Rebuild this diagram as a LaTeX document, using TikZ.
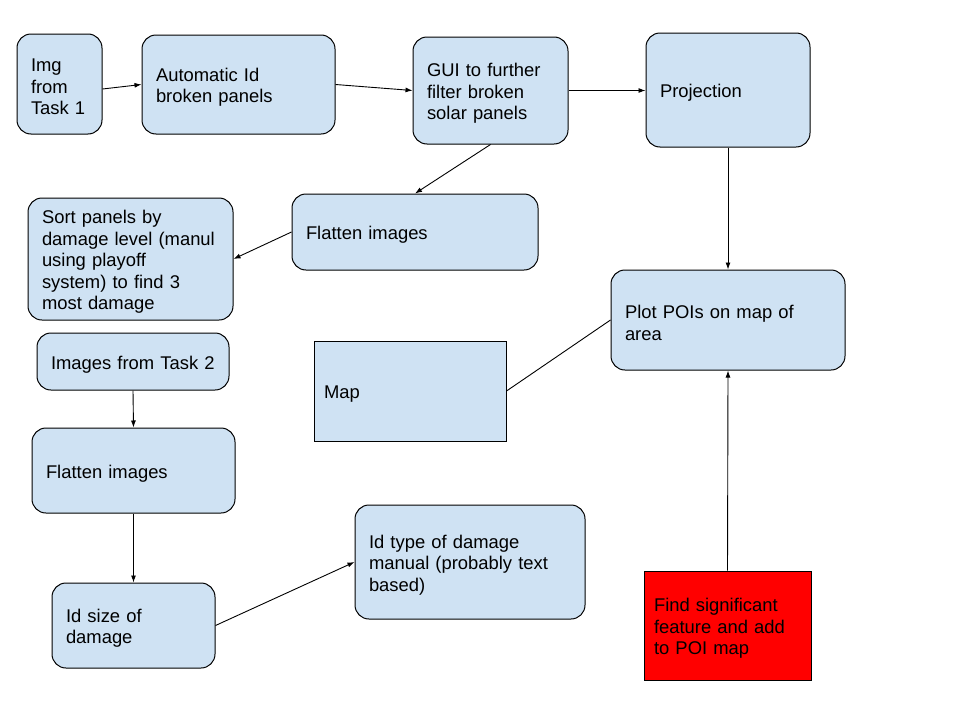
\documentclass[tikz,border=0pt]{standalone}
\usepackage{fontspec}
\setmainfont{Liberation Sans}
\usetikzlibrary{arrows.meta}
\definecolor{boxblue}{HTML}{CFE2F3}
\begin{document}
\begin{tikzpicture}
		[x=1pt,y=-1pt,
		mybox/.style 2 args = {shape=rectangle, draw, rounded corners=14pt, fill=boxblue, line width=1pt,
			align=left, inner xsep=14pt, inner ysep=0pt, text width=#1-28pt, minimum height=#2,
			font=\fontsize{18.4}{21.5}\selectfont, execute at begin node={\rule{0pt}{19pt}}},
		flatbox/.style 2 args = {mybox={#1}{#2}, sharp corners, inner xsep=10pt, text width=#1-20pt},
		myarrow/.style = {-{Latex[length=7pt,width=5pt]}, line width=0.9pt}]
		\useasboundingbox (0,0) rectangle (960,720);
		% top row
		\node[mybox={85pt}{100pt},name=img] at (59.5,84) {Img\\from\\Task 1};
		\node[mybox={193pt}{99pt},name=auto] at (238.5,84.5) {Automatic Id\\broken panels};
		\node[mybox={155pt}{107pt},name=gui] at (490.5,90.5) {GUI to further\\filter broken\\solar panels};
		\node[mybox={164pt}{114pt},name=proj] at (728,90) {Projection};
		% middle
		\node[mybox={246pt}{76pt},name=flat1] at (415,232) {Flatten images};
		\node[mybox={205pt}{122pt},name=sort] at (130.5,259) {Sort panels by\\damage level (manul\\using playoff\\system) to find 3\\most damage};
		\node[mybox={234pt}{100pt},name=plot] at (728,320) {Plot POIs on map of\\area};
		\node[flatbox={192pt}{100pt},name=map] at (410,391) {Map};
		% left column
		\node[mybox={192pt}{57pt},name=img2] at (133,361.5) {Images from Task 2};
		\node[mybox={203pt}{85pt},name=flat2] at (133.5,470.5) {Flatten images};
		\node[mybox={163pt}{85pt},name=size] at (133.5,625.5) {Id size of\\damage};
		\node[mybox={230pt}{114pt},name=type] at (470,562) {Id type of damage\\manual (probably text\\based)};
		\node[flatbox={167pt}{109pt},name=find,fill=red] at (727.5,625.5) {Find significant\\feature and add\\to POI map};
\draw[myarrow] ([yshift=-5pt]img.east) -- (auto.west);
\draw[myarrow] (gui.east) -- (gui.east -| proj.west);
\foreach \a/\b in {auto.east/gui.west, gui.south/flat1.north, flat1.west/sort.east,
	proj.south/plot.north, img2.south/flat2.north, flat2.south/size.north,
	size.east/type.west, find.north/plot.south}
{
	\draw[myarrow] (\a) -- (\b);
}
\draw[line width=0.9pt] (map.east) -- (plot.west);
	\end{tikzpicture}
\end{document}
